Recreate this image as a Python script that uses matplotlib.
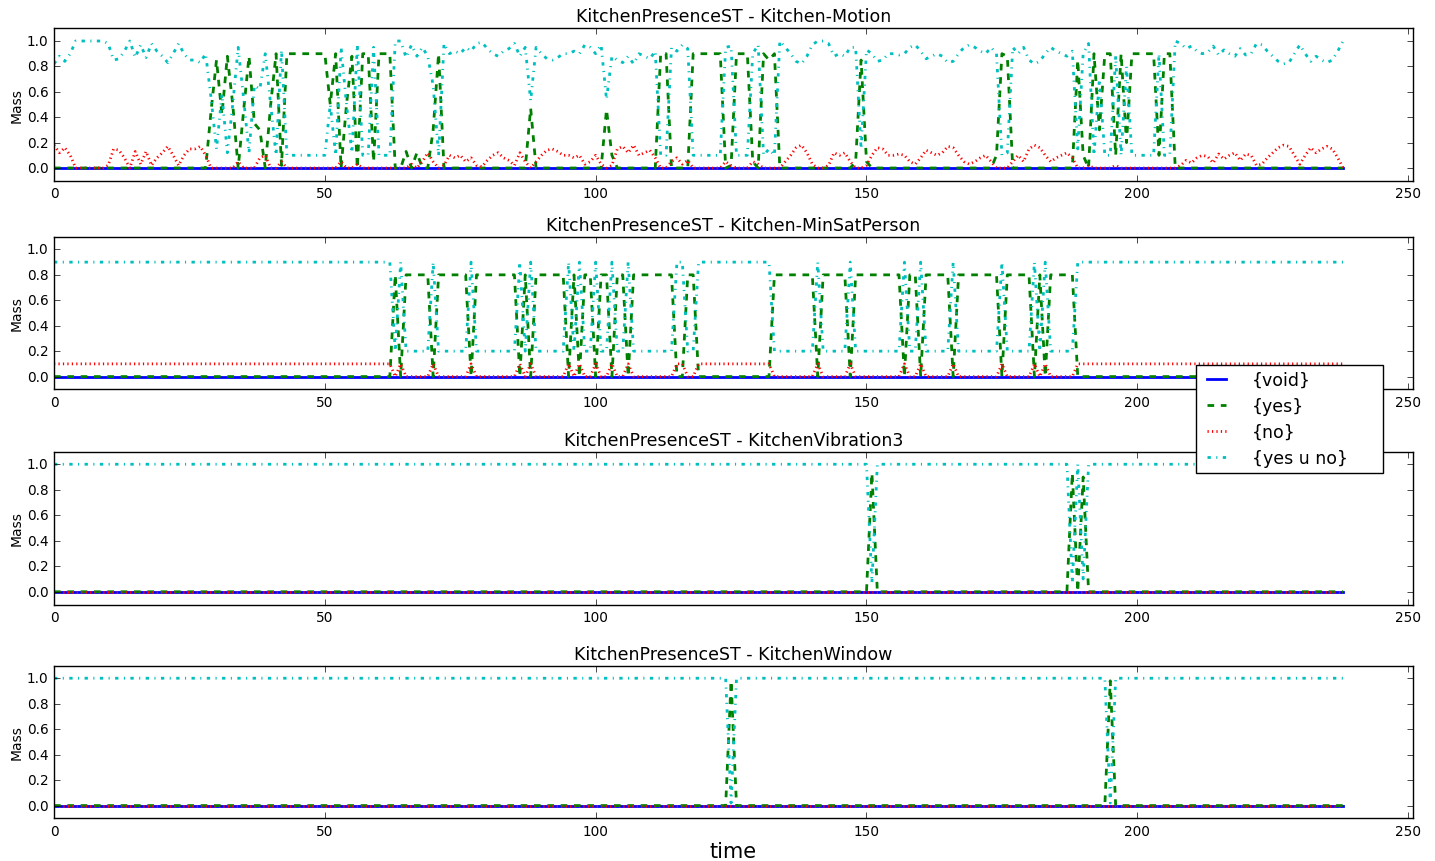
import numpy as np
import matplotlib.pyplot as plt

# time axis: one sample per step, 0..238
time = np.arange(239)

# ---- Kitchen-Motion (rows of 10 samples) ----
motion_yes = [
    0, 0, 0, 0, 0, 0, 0, 0, 0, 0,
    0, 0, 0, 0, 0, 0, 0, 0, 0, 0,
    0, 0, 0, 0, 0, 0, 0, 0, 0, .45,
    .85, .42, .88, .5, 0, .45, .88, .35, .3, 0,
    .5, .9, .02, .9, .9, .9, .9, .9, .9, .9,
    .9, .5, .9, 0, .5, .88, 0, .9, .9, .05,
    .9, .9, .9, 0, 0, .13, 0, .12, 0, 0,
    .3, .9, 0, 0, 0, 0, 0, 0, 0, 0,
    0, 0, 0, 0, 0, 0, 0, 0, .47, 0,
    0, 0, 0, 0, 0, 0, 0, 0, 0, 0,
    0, 0, .46, .1, 0, 0, 0, 0, 0, 0,
    0, 0, .9, .9, 0, 0, 0, 0, .9, .9,
    .9, .9, .9, .9, 0, .02, .9, .9, .9, .05,
    0, .9, .85, .9, 0, 0, 0, 0, 0, 0,
    0, 0, 0, 0, 0, 0, 0, 0, .05, .85,
    .05, 0, 0, 0, 0, 0, 0, 0, 0, 0,
    0, 0, 0, 0, 0, 0, 0, 0, 0, 0,
    0, 0, 0, 0, .1, .9, .88, 0, 0, 0,
    0, 0, 0, 0, 0, 0, 0, 0, 0, .85,
    .1, 0, .9, .3, .9, .9, .1, .9, .2, .9,
    .9, .9, .9, .9, .1, .9, .9, 0, 0, 0,
    0, 0, 0, 0, 0, 0, 0, 0, 0, 0,
    0, 0, 0, 0, 0, 0, 0, 0, 0, 0,
    0, 0, 0, 0, 0, 0, 0, 0, 0,
]
motion_no = [
    .18, .12, .16, .10, 0, 0, 0, 0, 0, 0,
    .02, .15, .14, .08, 0, .13, .03, .13, .02, .08,
    .12, .17, .10, .02, .10, .15, .15, .17, .10, 0,
    0, 0, 0, 0, .05, 0, 0, 0, .08, .1,
    0, 0, .05, 0, 0, 0, 0, 0, 0, 0,
    0, 0, 0, .05, 0, 0, .03, 0, 0, 0,
    0, 0, 0, 0, 0, 0, .03, 0, .05, .12,
    .05, 0, .02, .1, .08, .1, .05, .08, .02, .01,
    .06, .1, .12, .08, .06, .02, .12, .05, 0, .05,
    .1, .14, .15, .13, .1, .1, .08, .1, .03, .05,
    .1, .03, 0, .02, .15, .17, .12, .18, .1, .12,
    .14, .08, 0, 0, .05, .08, .03, .06, 0, 0,
    0, 0, 0, 0, .05, .02, 0, 0, 0, .05,
    .03, 0, 0, 0, 0, .05, .1, .16, .18, .12,
    .03, 0, 0, .02, .12, .1, .12, .05, 0, 0,
    .02, .1, .16, .15, .1, .1, .11, .1, .05, .03,
    .08, .14, .12, .1, .12, .17, .16, .1, .05, .03,
    .05, .08, .1, .05, 0, 0, 0, .05, .1, .05,
    .15, .18, .16, .1, .05, .08, .1, .12, .08, 0,
    0, .02, 0, 0, 0, 0, .02, 0, 0, 0,
    0, 0, 0, 0, 0, 0, 0, 0, .02, .06,
    .04, .08, .1, .09, .04, .11, .07, .1, .12, .06,
    .11, .1, .02, .03, .08, .12, .16, .18, .17, .1,
    .03, .1, .16, .12, .15, .17, .15, .08, 0,
]
motion_yesno = [
    .82, .88, .84, .90, 1, 1, 1, 1, 1, 1,
    .98, .85, .86, .92, 1, .87, .97, .87, .98, .92,
    .88, .83, .90, .98, .90, .85, .85, .83, .90, .55,
    .15, .58, .12, .5, .95, .55, .12, .65, .62, .9,
    .5, .1, .93, .1, .1, .1, .1, .1, .1, .1,
    .1, .5, .1, .95, .5, .12, .97, .1, .1, .95,
    .1, .1, .1, 1, 1, .87, .97, .88, .95, .88,
    .65, .1, .98, .9, .92, .9, .95, .92, .98, .99,
    .94, .9, .88, .92, .94, .98, .88, .95, .53, .95,
    .9, .86, .85, .87, .9, .9, .92, .9, .97, .95,
    .9, .97, .54, .88, .85, .83, .88, .82, .9, .88,
    .86, .92, .1, .1, .95, .92, .97, .94, .1, .1,
    .1, .1, .1, .1, .95, .96, .1, .1, .1, .9,
    .97, .1, .15, .1, 1, .95, .9, .84, .82, .88,
    .97, 1, 1, .98, .88, .9, .88, .95, .95, .15,
    .93, .9, .84, .85, .9, .9, .89, .9, .95, .97,
    .92, .86, .88, .9, .88, .83, .84, .9, .95, .97,
    .95, .92, .9, .95, .9, .1, .12, .95, .9, .95,
    .85, .82, .84, .9, .95, .92, .9, .88, .92, .15,
    .9, .98, .1, .7, .1, .1, .88, .1, .8, .1,
    .1, .1, .1, .1, .9, .1, .1, 1, .98, .94,
    .96, .92, .9, .91, .96, .89, .93, .9, .88, .94,
    .89, .9, .98, .97, .92, .88, .84, .82, .83, .9,
    .97, .9, .84, .88, .85, .83, .85, .92, 1,
]

# ---- Kitchen-MinSatPerson: run lengths alternating idle / person states ----
minsat_runs = [63, 1, 1, 5, 1, 6, 1, 8, 1, 1, 1, 6, 1, 1, 1, 2, 1, 2, 1, 2, 1, 8,
               2, 2, 14, 8, 1, 5, 1, 9, 1, 2, 1, 5, 1, 8, 1, 5, 1, 1, 1, 5, 50]
minsat_yes_levels = [0.0, 0.8]    # idle, person
minsat_no_levels = [0.1, 0.0]
minsat_yesno_levels = [0.9, 0.2]

# ---- KitchenVibration3 ----
vib_yes = [0.0] * 151 + [0.93] + [0.0] * 36 + [0.93, 0.0, 0.9] + [0.0] * 48
vib_no = [0.0] * 239
vib_yesno = [1.0] * 151 + [0.07] + [1.0] * 36 + [0.07, 1.0, 0.1] + [1.0] * 48

# ---- KitchenWindow ----
win_yes = [0.0] * 125 + [0.98] + [0.0] * 69 + [0.98] + [0.0] * 43
win_no = [0.0] * 239
win_yesno = [1.0] * 125 + [0.02] + [1.0] * 69 + [0.02] + [1.0] * 43

void = [0.0] * 239

state = np.arange(len(minsat_runs)) % 2
minsat_yes = np.repeat(np.take(minsat_yes_levels, state), minsat_runs)
minsat_no = np.repeat(np.take(minsat_no_levels, state), minsat_runs)
minsat_yesno = np.repeat(np.take(minsat_yesno_levels, state), minsat_runs)

titles = ['KitchenPresenceST - Kitchen-Motion',
          'KitchenPresenceST - Kitchen-MinSatPerson',
          'KitchenPresenceST - KitchenVibration3',
          'KitchenPresenceST - KitchenWindow']
series = [(motion_yes, motion_no, motion_yesno),
          (minsat_yes, minsat_no, minsat_yesno),
          (vib_yes, vib_no, vib_yesno),
          (win_yes, win_no, win_yesno)]
labels = ['{void}', '{yes}', '{no}', '{yes u no}']

plt.style.use('classic')
W, H = 1435, 862
fig = plt.figure(figsize=(W / 100, H / 100), dpi=100, facecolor='white')

# axes frames in pixels: (top, bottom)
frames = [(29.3, 181.7), (237.7, 390.3), (452.5, 605.5), (666.5, 819.3)]
left, right = 54, 1412.5

for i, (title, (yes, no, yesno)) in enumerate(zip(titles, series)):
    top, bot = frames[i]
    ax = fig.add_axes([left / W, 1 - bot / H, (right - left) / W, (bot - top) / H])
    ax.plot(time, void, color='b', lw=2, label=labels[0])
    ax.plot(time, yes, color='g', ls='--', dashes=(4.8, 4.8), lw=2, label=labels[1])
    ax.plot(time, no, color='r', ls=':', dashes=(0.9, 2.3), lw=2, label=labels[2])
    ax.plot(time, yesno, color='c', ls='-.', dashes=(2.4, 3.9, 0.8, 3.9), lw=2,
            label=labels[3])
    ax.set_xlim(0, 250.8)
    ax.set_ylim(-0.1, 1.1)
    ax.set_xticks(range(0, 251, 50))
    ax.set_yticks([0.0, 0.2, 0.4, 0.6, 0.8, 1.0])
    ax.set_yticklabels(['0.0', '0.2', '0.4', '0.6', '0.8', '1.0'])
    ax.tick_params(labelsize=9.8)
    ax.set_title(title, fontsize=12.5)
    ax.set_ylabel('Mass', fontsize=10, labelpad=2)
    if i == 3:
        ax.set_xlabel('time', fontsize=15, labelpad=2)
    if i == 0:
        handles = ax.get_lines()

# legend box spans x 1196-1383 px, top at y 366 px
fig.legend(handles, labels, loc='upper left', mode='expand',
           bbox_to_anchor=(1196 / W, 1 - 474 / H, 187 / W, 108 / H),
           borderaxespad=0, fontsize=12.5, handlelength=1.7,
           handletextpad=1.2, labelspacing=0.47, borderpad=0.34,
           fancybox=False, shadow=False, framealpha=1)

fig.savefig('out.png', dpi=100, facecolor='white')
